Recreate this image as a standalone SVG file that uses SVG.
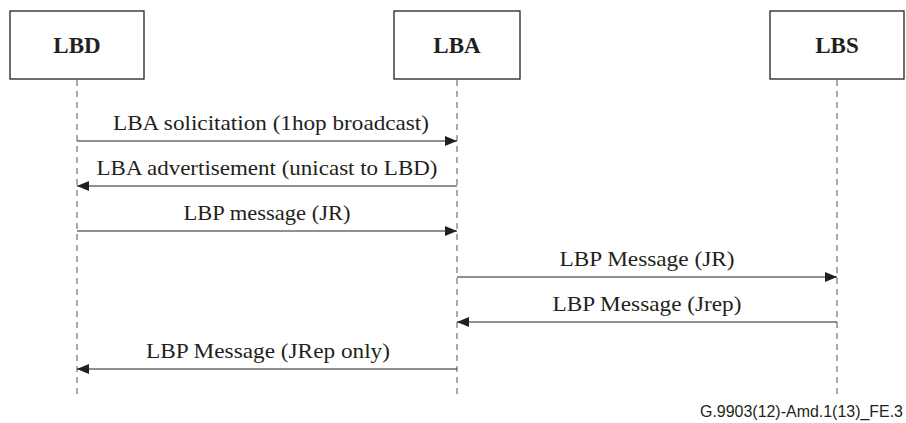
<svg xmlns="http://www.w3.org/2000/svg" width="906" height="423" viewBox="0 0 906 423">
<style>
.box{fill:#fff;stroke:#231f20;stroke-width:1.3}
.lbl{font-family:"Liberation Serif","Times New Roman",serif;font-weight:bold;font-size:23px;fill:#231f20;text-anchor:middle}
.life{stroke:#555;stroke-width:1;stroke-dasharray:6,5;fill:none}
.msg{stroke:#231f20;stroke-width:1;fill:none}
.mt{font-family:"Liberation Serif","Times New Roman",serif;font-size:22px;fill:#231f20;text-anchor:middle}
.ft{font-family:"Liberation Sans",Arial,sans-serif;font-size:16px;fill:#231f20}
</style>
<defs>
<marker id="ah" viewBox="0 0 12 10" refX="12" refY="5" markerWidth="12" markerHeight="10" markerUnits="userSpaceOnUse" orient="auto">
<path d="M0,0 L12,5 L0,10 Z" fill="#231f20"/>
</marker>
</defs>
<rect width="906" height="423" fill="#fff"/>
<g id="lifelines">
<line class="life" x1="77" y1="80" x2="77" y2="398"/>
<line class="life" x1="457" y1="80" x2="457" y2="398"/>
<line class="life" x1="837" y1="80" x2="837" y2="398"/>
</g>
<g id="LBD"><rect class="box" x="10" y="11" width="134" height="68"/><text class="lbl" x="77" y="53">LBD</text></g>
<g id="LBA"><rect class="box" x="394" y="11" width="126" height="68"/><text class="lbl" x="457" y="53">LBA</text></g>
<g id="LBS"><rect class="box" x="770" y="11" width="134" height="68"/><text class="lbl" x="837" y="53">LBS</text></g>
<g id="connectors">
<line class="msg" x1="77" y1="141" x2="457" y2="141" marker-end="url(#ah)"/>
<text class="mt" x="271" y="130" textLength="316" lengthAdjust="spacingAndGlyphs">LBA solicitation (1hop broadcast)</text>
<line class="msg" x1="457" y1="186" x2="77" y2="186" marker-end="url(#ah)"/>
<text class="mt" x="267" y="175" textLength="341" lengthAdjust="spacingAndGlyphs">LBA advertisement (unicast to LBD)</text>
<line class="msg" x1="77" y1="231" x2="457" y2="231" marker-end="url(#ah)"/>
<text class="mt" x="267" y="220" textLength="167" lengthAdjust="spacingAndGlyphs">LBP message (JR)</text>
<line class="msg" x1="457" y1="277" x2="837" y2="277" marker-end="url(#ah)"/>
<text class="mt" x="647" y="266" textLength="175" lengthAdjust="spacingAndGlyphs">LBP Message (JR)</text>
<line class="msg" x1="837" y1="322" x2="457" y2="322" marker-end="url(#ah)"/>
<text class="mt" x="647" y="311" textLength="189" lengthAdjust="spacingAndGlyphs">LBP Message (Jrep)</text>
<line class="msg" x1="457" y1="369" x2="77" y2="369" marker-end="url(#ah)"/>
<text class="mt" x="268" y="358" textLength="244" lengthAdjust="spacingAndGlyphs">LBP Message (JRep only)</text>
</g>
<text class="ft" x="700" y="417" textLength="203" lengthAdjust="spacingAndGlyphs">G.9903(12)-Amd.1(13)_FE.3</text>
</svg>
